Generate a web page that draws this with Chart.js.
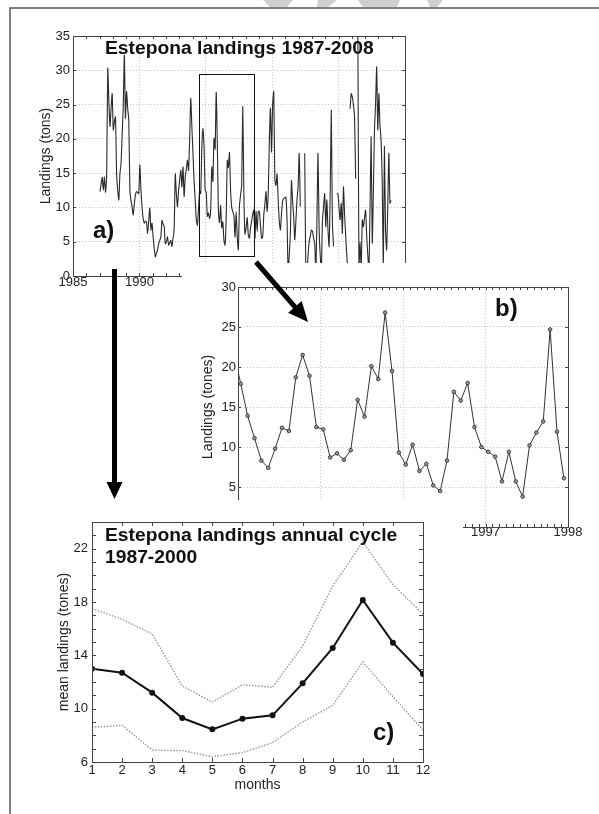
<!DOCTYPE html>
<html>
<head>
<meta charset="utf-8">
<script src="https://cdn.jsdelivr.net/npm/chart.js@4.4.1/dist/chart.umd.min.js"></script>
<style>
  html, body { margin: 0; padding: 0; background: #fff; }
  #page { position: relative; width: 599px; height: 814px; overflow: hidden; }
  canvas { position: absolute; }
  #chartA { left: 0; top: 0; }
  #chartB { left: 182px; top: 263px; background: #fff; }
  #chartC { left: 11px; top: 500px; background: #fff; }
  #overlay { left: 0; top: 0; pointer-events: none; }
</style>
</head>
<body>
<div id="page">
  <canvas id="chartA" width="420" height="292"></canvas>
  <canvas id="chartB" width="417" height="290"></canvas>
  <canvas id="chartC" width="452" height="314"></canvas>
  <canvas id="overlay" width="599" height="814"></canvas>
</div>
<script>
// monthly landings (tons), Jan..Dec; null = no data
const y1987 = [12.3, 13.4, 14.4, 12.5, 14.4, 12.2, 14.5, 30.3, 25.5, 21.8, 24.5, 26.6];
const y1988 = [21.3, 22.5, 23.2, 14.9, 12.5, 11.1, 14.9, 16.4, 20.5, 24.7, 32.2, 23.0];
const y1989 = [26.9, 24.5, 22.7, 12.5, 11.0, 10.1, 8.9, 10.5, 11.8, 12.3, 12.2, 12.0];
const y1990 = [16.2, 12.5, 10.0, 8.4, 7.7, 8.0, 7.9, 6.2, 8.0, 9.9, 6.7, 7.7];
const y1991 = [5.7, 4.0, 2.8, 3.3, 3.8, 4.7, 5.2, 5.7, 8.1, 7.6, 7.2, 4.7];
const y1992 = [5.0, 5.7, 4.5, 4.8, 5.2, 4.3, 5.5, 6.7, 14.9, 12.0, 10.1, 12.5];
const y1993 = [14.0, 15.4, 13.0, 15.9, 11.6, 14.4, 15.6, 16.9, 15.4, 20.0, 25.9, 21.8];
const y1994 = [17.9, 13.9, 11.1, 8.3, 7.4, 9.8, 12.4, 12.0, 18.7, 21.5, 18.9, 12.5];
const y1995 = [12.2, 8.7, 9.2, 8.4, 9.6, 15.9, 13.8, 20.1, 18.5, 26.8, 19.5, 9.3];
const y1996 = [7.8, 10.3, 7.0, 7.9, 5.2, 4.5, 8.3, 16.9, 15.8, 18.0, 12.5, 10.0];
const y1997 = [9.4, 8.8, 5.7, 9.4, 5.7, 3.8, 10.2, 11.8, 13.2, 24.7, 11.9, 6.1];
const y1998 = [7.0, 8.5, 6.0, 5.5, 7.0, 8.0, 9.0, 9.6, 5.5, 9.4, 6.5, 9.4];
const y1999 = [9.4, 7.4, 5.5, 5.7, 8.9, 10.5, 12.3, 9.4, 12.0, 19.6, 24.5, 18.1];
const y2000 = [25.0, 26.9, 14.0, 13.2, 14.9, 11.1, 8.0, 6.7, 9.0, 10.9, 11.3, 11.4];
const y2001 = [11.5, 8.2, 0.5, 3.0, 6.2, 13.9, 11.0, 8.7, 5.3, 8.0, 11.1, 13.0];
const y2002 = [17.9, 10.1, null, null, null, 17.9, 0.5, 0.5, 3.0, 5.0, 5.8, 6.7];
const y2003 = [6.5, 5.5, 4.8, 0.5, 8.0, 17.9, 6.7, 3.0, 0.5, 8.2, 10.0, 12.0];
const y2004 = [7.2, 11.1, 6.7, 4.3, 12.0, 24.2, 7.7, 4.3, null, null, 12.0, 12.0];
const y2005 = [10.0, 8.2, 10.6, 6.2, 13.0, 9.0, 5.8, 3.0, 0.5, null, 24.4, 26.6];
const y2006 = [26.1, 25.0, 23.2, 14.2, null, 36.0, 1.0, 5.0, 1.0, 8.2, 7.2, 8.5];
const y2007 = [9.6, 5.8, 3.0, 1.0, 10.0, 20.3, 4.8, 12.0, 21.3, 25.0, 30.5, 21.3];
const y2008 = [26.6, 22.0, 19.8, 14.0, 1.0, 18.9, 6.7, 3.8, 10.0, 17.9, 10.6, 11.0];

const years = [1987, 1988, 1989, 1990, 1991, 1992, 1993, 1994, 1995, 1996, 1997,
               1998, 1999, 2000, 2001, 2002, 2003, 2004, 2005, 2006, 2007, 2008];
const landings = [y1987, y1988, y1989, y1990, y1991, y1992, y1993, y1994, y1995, y1996, y1997,
                  y1998, y1999, y2000, y2001, y2002, y2003, y2004, y2005, y2006, y2007, y2008];

// zoomed window shown in b)
const zoomWindow = { x0: 1994.51, x1: 1998.65, y0: 2.8, y1: 29.4 };

// annual cycle 1987-2000
const months = [1, 2, 3, 4, 5, 6, 7, 8, 9, 10, 11, 12];
const cycleMean  = [13.0, 12.7, 11.2, 9.3, 8.45, 9.25, 9.5, 11.9, 14.55, 18.15, 14.95, 12.6];
const cycleUpper = [17.5, 16.7, 15.6, 11.7, 10.5, 11.8, 11.6, 14.7, 19.2, 22.5, 19.3, 17.1];
const cycleLower = [8.6, 8.75, 6.9, 6.85, 6.4, 6.7, 7.45, 9.0, 10.25, 13.5, 10.9, 8.4];

// tick labels
const ticksAx = [1985, 1990, 1995, 2000, 2005, 2010];
const ticksAy = [0, 5, 10, 15, 20, 25, 30, 35];
const ticksBx = [1994, 1995, 1996, 1997, 1998];
const ticksBy = [0, 5, 10, 15, 20, 25, 30];
const ticksCy = [6, 10, 14, 18, 22];

Chart.defaults.font.family = '"Liberation Sans", Arial, sans-serif';
Chart.defaults.color = '#222';

function monthly(fromYear, fromMonth, toYear) {
  const pts = [];
  years.forEach((yr, i) => {
    landings[i].forEach((v, m) => {
      if (yr < fromYear || (yr === fromYear && m < fromMonth) || yr > toYear) return;
      pts.push({ x: yr + (m + 0.4) / 12, y: v });
    });
  });
  return pts;
}
const seriesA = monthly(1987, 0, 2008);
const seriesB = monthly(1993, 11, 1997);

const setTicks = list => scale => { scale.ticks = list.map(v => ({ value: v })); };

// box with inward tick marks (matlab style)
const boxTicks = {
  id: 'boxTicks',
  afterDatasetsDraw(chart, args, opts) {
    const { ctx, chartArea: a, scales: { x, y } } = chart;
    const L = opts.len || 4;
    ctx.save();
    ctx.strokeStyle = opts.color || '#444';
    ctx.lineWidth = 1;
    ctx.beginPath();
    (opts.xTicks || []).forEach(v => {
      const px = Math.round(x.getPixelForValue(v)) + 0.5;
      ctx.moveTo(px, a.bottom); ctx.lineTo(px, a.bottom - L);
      ctx.moveTo(px, a.top); ctx.lineTo(px, a.top + L);
    });
    (opts.yTicks || []).forEach(v => {
      const py = Math.round(y.getPixelForValue(v)) + 0.5;
      ctx.moveTo(a.left, py); ctx.lineTo(a.left + L, py);
      ctx.moveTo(a.right, py); ctx.lineTo(a.right - L, py);
    });
    ctx.stroke();
    ctx.strokeRect(Math.round(a.left) + 0.5, Math.round(a.top) + 0.5,
                   Math.round(a.width), Math.round(a.height));
    if (opts.window) {
      const w = opts.window;
      const x0 = x.getPixelForValue(w.x0), x1 = x.getPixelForValue(w.x1);
      const y0 = y.getPixelForValue(w.y0), y1 = y.getPixelForValue(w.y1);
      ctx.strokeStyle = '#111';
      ctx.strokeRect(Math.round(x0) + 0.5, Math.round(y1) + 0.5,
                     Math.round(x1 - x0), Math.round(y0 - y1));
    }
    ctx.restore();
  }
};

// free text labels, bold titles slightly stretched like the original
const annot = {
  id: 'annot',
  afterDraw(chart, args, opts) {
    const ctx = chart.ctx;
    (opts.items || []).forEach(t => {
      ctx.save();
      ctx.font = t.font;
      ctx.fillStyle = '#111';
      ctx.textBaseline = 'alphabetic';
      ctx.textAlign = 'left';
      ctx.translate(t.x, t.y);
      ctx.scale(t.sx || 1, 1);
      ctx.fillText(t.text, 0, 0);
      ctx.restore();
    });
  }
};

const gridOpts = { color: '#c4c4c4', lineWidth: 1, drawTicks: false };
const noGrid = { display: false, drawTicks: false };
const borderOpts = { display: false, dash: [1, 2] };
const tickFont = { size: 13 };
const titleFont = { size: 14 };
const bold = 'bold 18px "Liberation Sans", Arial, sans-serif';
const boldBig = 'bold 24px "Liberation Sans", Arial, sans-serif';

// a) full series
new Chart(document.getElementById('chartA'), {
  type: 'line',
  data: { datasets: [{ data: seriesA, borderColor: '#2a2a2a', borderWidth: 1.1,
                       pointRadius: 0, tension: 0.2, spanGaps: false }] },
  options: {
    responsive: false, animation: false, devicePixelRatio: 1,
    layout: { padding: { top: 36, right: 15, left: 0, bottom: 0 } },
    plugins: {
      legend: { display: false }, tooltip: { enabled: false },
      boxTicks: { xTicks: Array.from({ length: 26 }, (_, i) => 1985 + i), yTicks: ticksAy,
                  len: 3, window: zoomWindow },
      annot: { items: [
        { text: 'Estepona landings 1987-2008', x: 105, y: 54, font: bold, sx: 1.07 },
        { text: 'a)', x: 93, y: 238, font: boldBig }
      ] }
    },
    scales: {
      x: { type: 'linear', min: 1985, max: 2010,
           afterBuildTicks: setTicks(ticksAx),
           ticks: { padding: -1, font: tickFont, callback: v => String(v), maxRotation: 0 },
           grid: gridOpts, border: borderOpts,
           afterFit: s => { s.height = 16; } },
      y: { min: 0, max: 35,
           afterBuildTicks: setTicks(ticksAy),
           ticks: { padding: 3, font: tickFont },
           grid: gridOpts, border: borderOpts,
           title: { display: true, text: 'Landings (tons)', font: titleFont, padding: { top: 38, bottom: 0 } },
           afterFit: s => { s.width = 73; } }
    }
  },
  plugins: [boxTicks, annot]
});

// b) zoom 1994-1997
new Chart(document.getElementById('chartB'), {
  type: 'line',
  data: { datasets: [{ data: seriesB, borderColor: '#333', borderWidth: 1,
                       pointRadius: 1.8, pointBorderWidth: 0.8, pointBorderColor: '#222',
                       pointBackgroundColor: '#999', tension: 0 }] },
  options: {
    responsive: false, animation: false, devicePixelRatio: 1,
    layout: { padding: { top: 24, right: 31, left: 0, bottom: 0 } },
    plugins: {
      legend: { display: false }, tooltip: { enabled: false },
      boxTicks: { xTicks: Array.from({ length: 49 }, (_, i) => 1994 + i / 12), yTicks: ticksBy, len: 3 },
      annot: { items: [ { text: 'b)', x: 313, y: 53, font: boldBig } ] }
    },
    scales: {
      x: { type: 'linear', min: 1994, max: 1998,
           afterBuildTicks: setTicks(ticksBx),
           ticks: { padding: -2, font: tickFont, callback: v => String(v), maxRotation: 0 },
           grid: gridOpts, border: borderOpts,
           afterFit: s => { s.height = 26; } },
      y: { min: 0, max: 30,
           afterBuildTicks: setTicks(ticksBy),
           ticks: { padding: 2, font: tickFont },
           grid: gridOpts, border: borderOpts,
           title: { display: true, text: 'Landings (tones)', font: titleFont, padding: { top: 18, bottom: 0 } },
           afterFit: s => { s.width = 56; } }
    }
  },
  plugins: [boxTicks, annot]
});

// c) annual cycle
new Chart(document.getElementById('chartC'), {
  type: 'line',
  data: {
    labels: months,
    datasets: [
      { data: cycleUpper, borderColor: '#9a9a9a', borderWidth: 1.4, borderDash: [1.5, 1.5], pointRadius: 0 },
      { data: cycleLower, borderColor: '#9a9a9a', borderWidth: 1.4, borderDash: [1.5, 1.5], pointRadius: 0 },
      { data: cycleMean, borderColor: '#111', borderWidth: 2, pointRadius: 2,
        pointBackgroundColor: '#111', pointBorderColor: '#111' }
    ]
  },
  options: {
    responsive: false, animation: false, devicePixelRatio: 1,
    layout: { padding: { top: 22, right: 40, left: 0, bottom: 0 } },
    plugins: {
      legend: { display: false }, tooltip: { enabled: false },
      boxTicks: { xTicks: months, yTicks: Array.from({ length: 19 }, (_, i) => 6 + i), len: 4 },
      annot: { items: [
        { text: 'Estepona landings annual cycle', x: 94, y: 41, font: bold, sx: 1.07 },
        { text: '1987-2000', x: 94, y: 63, font: bold, sx: 1.07 },
        { text: 'c)', x: 362, y: 240, font: boldBig }
      ] }
    },
    scales: {
      x: { type: 'linear', min: 1, max: 12,
           afterBuildTicks: setTicks(months),
           ticks: { padding: 1, font: tickFont, callback: v => String(v), maxRotation: 0 },
           grid: noGrid, border: { display: false },
           title: { display: true, text: 'months', font: titleFont, padding: { top: 0, bottom: 20 } },
           afterFit: s => { s.height = 52; } },
      y: { min: 6, max: 24,
           afterBuildTicks: setTicks(ticksCy),
           ticks: { padding: 4, font: tickFont },
           grid: noGrid, border: { display: false },
           title: { display: true, text: 'mean landings (tones)', font: titleFont, padding: { top: 45, bottom: 0 } },
           afterFit: s => { s.width = 81; } }
    }
  },
  plugins: [boxTicks, annot]
});

// page decoration: frame, arrows
const ov = document.getElementById('overlay').getContext('2d');
ov.fillStyle = '#cfcfcf';
[[263, 293, 287, 270], [318, 337, 328, 317], [358, 400, 397, 363], [427, 443, 437, 430]].forEach(p => {
  ov.beginPath(); ov.moveTo(p[0], 0); ov.lineTo(p[1], 0); ov.lineTo(p[2], 7); ov.lineTo(p[3], 7);
  ov.closePath(); ov.fill();
});
ov.strokeStyle = '#555'; ov.lineWidth = 1.5;
ov.beginPath(); ov.moveTo(10, 814); ov.lineTo(10, 8); ov.lineTo(599, 8); ov.stroke();

function arrow(x0, y0, x1, y1, shaft, headLen, headHalf) {
  const dx = x1 - x0, dy = y1 - y0, L = Math.hypot(dx, dy);
  const ux = dx / L, uy = dy / L, nx = -uy, ny = ux;
  const bx = x1 - ux * headLen, by = y1 - uy * headLen, h = shaft / 2;
  ov.beginPath();
  ov.moveTo(x0 + nx * h, y0 + ny * h);
  ov.lineTo(bx + nx * h, by + ny * h);
  ov.lineTo(bx + nx * headHalf, by + ny * headHalf);
  ov.lineTo(x1, y1);
  ov.lineTo(bx - nx * headHalf, by - ny * headHalf);
  ov.lineTo(bx - nx * h, by - ny * h);
  ov.lineTo(x0 - nx * h, y0 - ny * h);
  ov.closePath();
  ov.fill();
}
ov.fillStyle = '#000';
arrow(114.5, 269, 114.5, 499, 5, 17, 8);
arrow(256, 262, 308, 322, 5, 20, 9);
</script>
</body>
</html>
